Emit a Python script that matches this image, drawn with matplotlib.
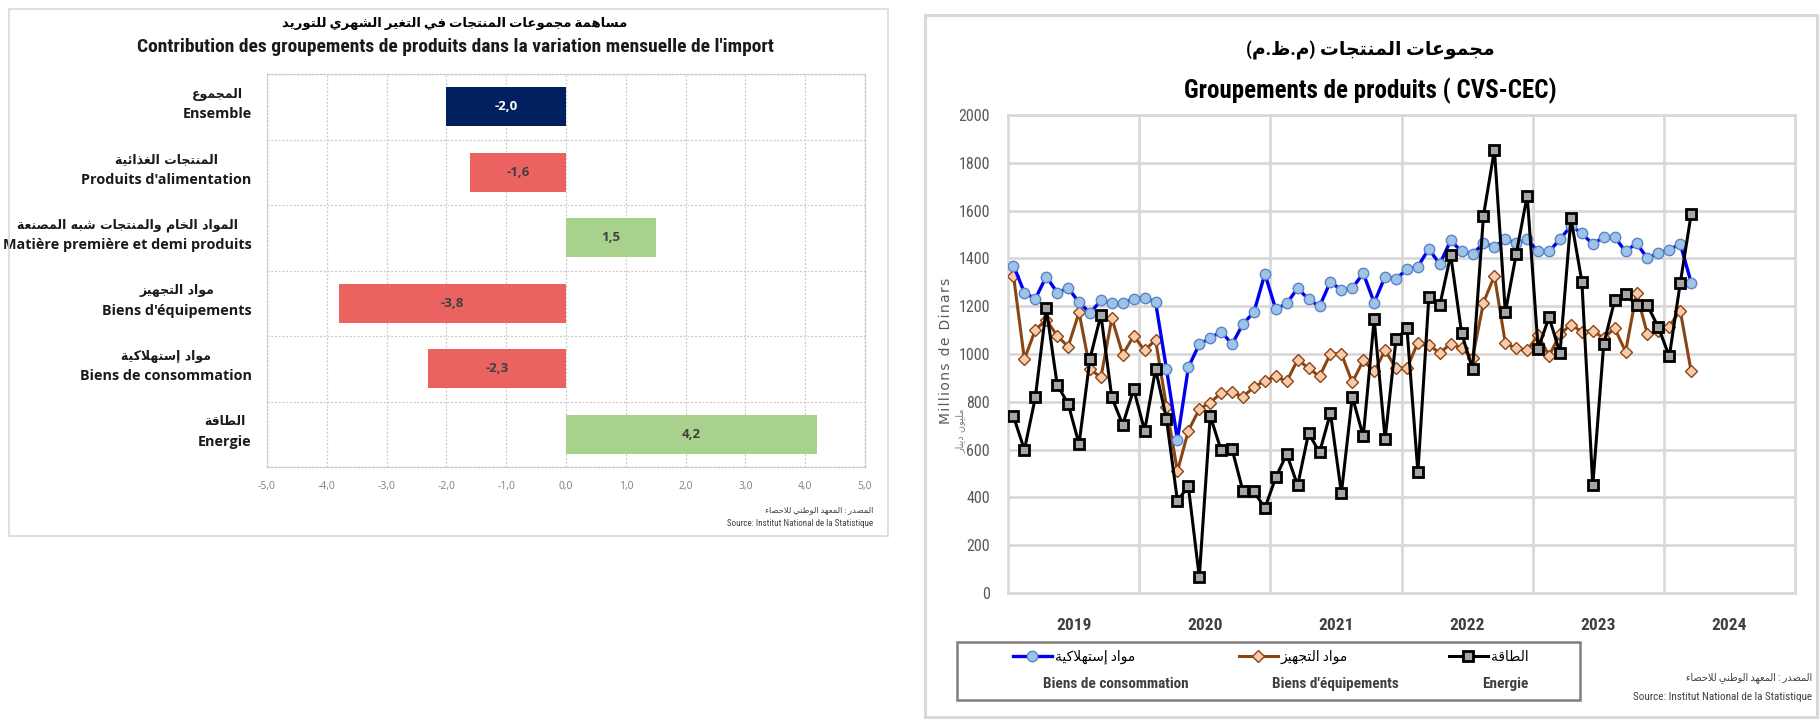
import matplotlib
matplotlib.use('Agg')
import matplotlib.pyplot as plt
import numpy as np
from matplotlib import font_manager
from matplotlib.patches import Rectangle
from matplotlib.ticker import FuncFormatter

# ---------------- left chart data ----------------
cat_ar = ['المجموع', 'المنتجات الغذائية', 'المواد الخام والمنتجات شبه المصنعة',
          'مواد التجهيز', 'مواد إستهلاكية', 'الطاقة']
cat_fr = ['Ensemble', "Produits d'alimentation", 'Matière première et demi produits',
          "Biens d'équipements", 'Biens de consommation', 'Energie']
contrib = [-2.0, -1.6, 1.5, -3.8, -2.3, 4.2]

# ---------------- right chart data (monthly, Jan 2019 -> Mar 2024) ----------------
years = ['2019', '2020', '2021', '2022', '2023', '2024']
conso = [1370, 1257, 1231, 1324, 1257, 1275, 1217, 1171, 1224, 1212, 1212, 1231,
         1236, 1217, 937, 641, 944, 1041, 1066, 1094, 1041, 1126, 1175, 1335,
         1187, 1212, 1275, 1229, 1199, 1303, 1266, 1275, 1338, 1215, 1324, 1314,
         1355, 1366, 1440, 1376, 1475, 1429, 1419, 1463, 1449, 1480, 1463, 1480,
         1429, 1429, 1480, 1536, 1505, 1459, 1489, 1489, 1429, 1463, 1401, 1422,
         1436, 1461, 1299]
equip = [1328, 978, 1101, 1143, 1076, 1031, 1174, 937, 902, 1150, 997, 1076,
         1015, 1059, 780, 509, 679, 769, 797, 836, 839, 822, 861, 888,
         906, 885, 976, 941, 906, 1001, 1001, 881, 973, 927, 1015, 941,
         941, 1048, 1038, 1004, 1043, 1024, 983, 1215, 1327, 1045, 1024, 1015,
         1080, 992, 1084, 1122, 1094, 1098, 1066, 1108, 1010, 1254, 1083, 1098,
         1115, 1182, 927]
energie = [739, 599, 818, 1192, 871, 792, 623, 980, 1164, 818, 704, 853,
           679, 937, 728, 386, 446, 66, 741, 597, 602, 425, 425, 355,
           484, 581, 450, 669, 588, 753, 418, 822, 655, 1146, 644, 1062,
           1107, 505, 1238, 1203, 1415, 1087, 937, 1579, 1854, 1174, 1419, 1663,
           1022, 1154, 1004, 1568, 1303, 450, 1041, 1224, 1252, 1203, 1203, 1112,
           990, 1296, 1585]
legend_ar = ['مواد إستهلاكية', 'مواد التجهيز', 'الطاقة']
legend_fr = ['Biens de consommation', "Biens d'équipements", 'Energie']

# ---------------- minimal arabic shaping (matplotlib has no bidi / shaping) ----------------
_forms = {'ء': (0xFE80, 1), 'آ': (0xFE81, 2), 'أ': (0xFE83, 2), 'ؤ': (0xFE85, 2),
          'إ': (0xFE87, 2), 'ئ': (0xFE89, 4), 'ا': (0xFE8D, 2), 'ب': (0xFE8F, 4),
          'ة': (0xFE93, 2), 'ت': (0xFE95, 4), 'ث': (0xFE99, 4), 'ج': (0xFE9D, 4),
          'ح': (0xFEA1, 4), 'خ': (0xFEA5, 4), 'د': (0xFEA9, 2), 'ذ': (0xFEAB, 2),
          'ر': (0xFEAD, 2), 'ز': (0xFEAF, 2), 'س': (0xFEB1, 4), 'ش': (0xFEB5, 4),
          'ص': (0xFEB9, 4), 'ض': (0xFEBD, 4), 'ط': (0xFEC1, 4), 'ظ': (0xFEC5, 4),
          'ع': (0xFEC9, 4), 'غ': (0xFECD, 4), 'ف': (0xFED1, 4), 'ق': (0xFED5, 4),
          'ك': (0xFED9, 4), 'ل': (0xFEDD, 4), 'م': (0xFEE1, 4), 'ن': (0xFEE5, 4),
          'ه': (0xFEE9, 4), 'و': (0xFEED, 2), 'ى': (0xFEEF, 2), 'ي': (0xFEF1, 4)}
_lamalef = {'آ': 0xFEF5, 'أ': 0xFEF7, 'إ': 0xFEF9, 'ا': 0xFEFB}


def ar(text):
    out = []
    prev = False
    i = 0
    while i < len(text):
        c = text[i]
        if c not in _forms:
            out.append(c)
            prev = False
            i += 1
            continue
        nxt = text[i + 1] if i + 1 < len(text) else ''
        if c == 'ل' and nxt in _lamalef:
            out.append(chr(_lamalef[nxt] + (1 if prev else 0)))
            prev = False
            i += 2
            continue
        start, k = _forms[c]
        joins = k == 4 and nxt in _forms and nxt != 'ء'
        if k == 1:
            code = start
        elif k == 2:
            code = start + (1 if prev else 0)
        else:
            code = start + {(False, False): 0, (True, False): 1,
                            (False, True): 2, (True, True): 3}[(prev, joins)]
        out.append(chr(code))
        prev = joins
        i += 1
    return ''.join(reversed(out)).translate(str.maketrans('()', ')('))


# ---------------- fonts ----------------
names = {f.name for f in font_manager.fontManager.ttflist}


def pick(*fams):
    for f in fams:
        if f in names:
            return f
    return 'DejaVu Sans'


NARROW = pick('Liberation Sans Narrow', 'Roboto Condensed', 'Open Sans Condensed', 'Liberation Sans')
SANS = pick('Open Sans', 'Lato', 'Noto Sans')
F_NARROW = [NARROW, 'DejaVu Sans']
F_SANS = [SANS, 'DejaVu Sans']

W, H = 1820, 722
fig = plt.figure(figsize=(W / 100, H / 100), dpi=100)
fig.patch.set_facecolor('white')


def fx(px):
    return px / W


def fy(py):
    return 1 - py / H


# panel frames
fig.add_artist(Rectangle((fx(9), fy(536)), fx(879), 527 / H, transform=fig.transFigure,
                         fill=False, ec='#D9D9D9', lw=1.2))
fig.add_artist(Rectangle((fx(925), fy(717)), fx(892), 702 / H, transform=fig.transFigure,
                         fill=False, ec='#D9D9D9', lw=2.2))

# ================= left: contributions =================
ax1 = fig.add_axes([fx(267), fy(467), fx(865 - 267), (467 - 74) / H])
ypos = np.arange(len(contrib))
colors = ['#002060' if i == 0 else ('#A9D18E' if v > 0 else '#EA6360') for i, v in enumerate(contrib)]
bars = ax1.barh(ypos, contrib, height=0.6, color=colors, zorder=3)
ax1.set_xlim(-5, 5)
ax1.set_ylim(len(contrib) - 0.5, -0.5)
ax1.set_xticks(np.arange(-5, 6, 1))
ax1.xaxis.set_major_formatter(FuncFormatter(lambda v, p: f'{v:.1f}'.replace('.', ',')))
ax1.set_yticks(ypos, labels=[''] * len(ypos))
ax1.set_yticks(np.arange(-0.5, len(contrib), 1), minor=True)
ax1.grid(True, axis='x', which='major', color='#C8C8C8', lw=0.9, ls=(0, (1.5, 1.5)), zorder=0)
ax1.grid(True, axis='y', which='minor', color='#C8C8C8', lw=0.9, ls=(0, (1.5, 1.5)), zorder=0)
for s in ax1.spines.values():
    s.set_color('#C8C8C8')
    s.set_linestyle((0, (1.5, 1.5)))
    s.set_linewidth(0.9)
ax1.tick_params(which='both', length=0)
ax1.tick_params(axis='x', pad=10, labelsize=7.5, labelcolor='#808080')
for t in ax1.get_xticklabels():
    t.set_family(F_SANS)
labels = ax1.bar_label(bars, labels=[f'{v:.1f}'.replace('.', ',') for v in contrib],
                       label_type='center', fontsize=9.5, fontweight='bold', family=F_SANS)
for i, t in enumerate(labels):
    t.set_color('white' if i == 0 else '#404040')

# category labels: french line right-aligned, arabic line centred above it
fr_texts = []
for i, f in enumerate(cat_fr):
    fr_texts.append(ax1.annotate(f, xy=(0, i), xycoords=('axes fraction', 'data'), xytext=(-11, -5.5),
                                 textcoords='offset points', ha='right', va='center', fontsize=10.4,
                                 fontweight='bold', family=F_SANS, color='#1a1a1a'))
fig.canvas.draw()
rend = fig.canvas.get_renderer()
for i, (a, t) in enumerate(zip(cat_ar, fr_texts)):
    bb = t.get_window_extent(rend)
    yc = ax1.transData.transform((0, i))[1] + 12.5
    fig.text((bb.x0 + bb.x1) / 2 / W, yc / H, ar(a), ha='center', va='center', fontsize=9,
             fontweight='bold', family='DejaVu Sans', color='#1a1a1a')

fig.text(fx(455), fy(23), ar('مساهمة مجموعات المنتجات في التغير الشهري للتوريد'),
         ha='center', va='center', fontsize=9.5, fontweight='bold', family=F_NARROW)
fig.text(fx(455), fy(47), "Contribution des groupements de produits dans la variation mensuelle de l'import",
         ha='center', va='center', fontsize=14, fontweight='bold', family=F_NARROW, color='#1a1a1a')
fig.text(fx(873), fy(510), ar('المصدر : المعهد الوطني للاحصاء'), ha='right', va='center',
         fontsize=6, color='#404040', family=F_NARROW)
fig.text(fx(873), fy(523), 'Source: Institut National de la Statistique', ha='right', va='center',
         fontsize=6.5, color='#404040', family=F_NARROW)

# ================= right: monthly series =================
ax2 = fig.add_axes([fx(1008), fy(593), fx(1795 - 1008), (593 - 115) / H])
x = np.arange(len(conso))
l_eq, = ax2.plot(x, equip, color='#8B4513', lw=2.2, marker='D', ms=6, mfc='#F8CBAD',
                 mec='#8B4513', mew=1, zorder=3)
l_co, = ax2.plot(x, conso, color='#0000F0', lw=2.4, marker='o', ms=7.5, mfc='#9DC3E6',
                 mec='#5B84C8', mew=1, zorder=4)
l_en, = ax2.plot(x, energie, color='black', lw=2.2, marker='s', ms=6.5, mfc='#A6A6A6',
                 mec='black', mew=2, zorder=5)
ax2.set_xlim(-0.5, 12 * len(years) - 0.5)
ax2.set_ylim(0, 2000)
ax2.set_yticks(np.arange(0, 2001, 200))
ax2.set_xticks(np.arange(11.5, 12 * len(years) - 1, 12))
ax2.set_xticks(np.arange(5.5, 12 * len(years), 12), labels=years, minor=True)
ax2.tick_params(axis='x', which='major', labelbottom=False)
ax2.tick_params(which='both', length=0)
ax2.tick_params(axis='x', which='minor', pad=18, labelsize=12.5, labelcolor='#404040')
ax2.tick_params(axis='y', pad=13, labelsize=11.5, labelcolor='#595959')
for t in ax2.get_xticklabels(minor=True):
    t.set_fontweight('bold')
    t.set_family(F_NARROW)
for t in ax2.get_yticklabels():
    t.set_family(F_NARROW)
ax2.grid(True, which='major', color='#D9D9D9', lw=2, zorder=0)
for s in ax2.spines.values():
    s.set_color('#D9D9D9')
    s.set_linewidth(2)

# axis titles: french letter-spaced, arabic one beside it
fig.text(fx(946), fy(351), '\u200a'.join('Millions de Dinars'), rotation=90, ha='center', va='center',
         fontsize=10, color='#595959', family='DejaVu Sans')
fig.text(fx(960), fy(431), ar('مليون دينار'), rotation=90, ha='center', va='center',
         fontsize=7, color='#808080', family='DejaVu Sans')

fig.text(fx(1370), fy(50), ar('مجموعات المنتجات (م.ظ.م)'), ha='center', va='center',
         fontsize=13.5, fontweight='bold', family=F_NARROW)
fig.text(fx(1370), fy(91), 'Groupements de produits ( CVS-CEC)', ha='center', va='center',
         fontsize=18, fontweight='bold', family=F_NARROW)

# legend box + entries (one small legend per column)
fig.add_artist(Rectangle((fx(957), fy(700)), fx(1580 - 957), 58 / H, transform=fig.transFigure,
                         fill=False, ec='#7F7F7F', lw=1.8))
for h, s, lx in zip([l_co, l_eq, l_en], legend_ar, [1013, 1239, 1449]):
    fig.legend([h], [ar(s)], loc='center left', bbox_to_anchor=(fx(lx), fy(657)), frameon=False,
               handlelength=2.8, handletextpad=0.2, borderpad=0, borderaxespad=0,
               prop={'family': F_NARROW, 'size': 10})
for cx, s in zip([1116, 1335, 1505], legend_fr):
    fig.text(fx(cx), fy(684), s, ha='center', va='center', fontsize=11, fontweight='bold',
             color='#404040', family=F_NARROW)

fig.text(fx(1812), fy(678), ar('المصدر : المعهد الوطني للاحصاء'), ha='right', va='center',
         fontsize=7, color='#404040', family=F_NARROW)
fig.text(fx(1812), fy(697), 'Source: Institut National de la Statistique', ha='right', va='center',
         fontsize=8, color='#404040', family=F_NARROW)

fig.savefig('out.png', dpi=100, facecolor='white')
